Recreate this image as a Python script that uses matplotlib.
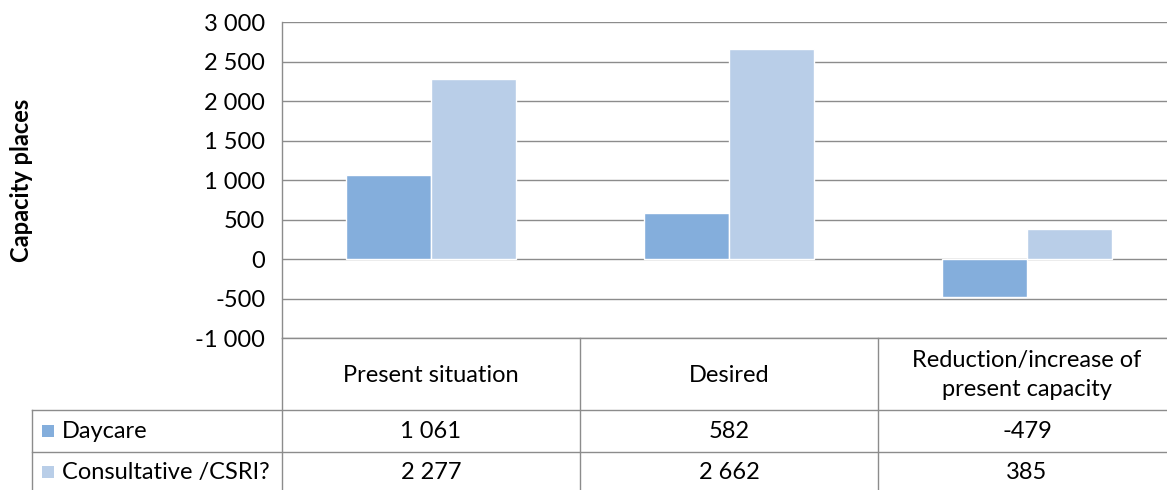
import matplotlib
matplotlib.use("Agg")
import matplotlib.pyplot as plt
from matplotlib.patches import Rectangle
from matplotlib.lines import Line2D

categories = ["Present situation", "Desired", "Reduction/increase of\npresent capacity"]
series_names = ["Daycare", "Consultative /CSRI?"]
daycare = [1061, 582, -479]
consultative = [2277, 2662, 385]
yticks = [-1000, -500, 0, 500, 1000, 1500, 2000, 2500, 3000]
ylabel = "Capacity places"

colors = ["#84AEDC", "#B9CEE8"]
grid_c = "#8C8C8C"
FS = 17

plt.rcParams['font.family'] = ['Lato', 'DejaVu Sans']

W, H = 1167, 490
fig = plt.figure(figsize=(W / 100, H / 100), dpi=100)

def fx(px):
    return px / W

def fy(py):
    return 1 - py / H

# plot area
left, right, top, bottom = 282, 282 + 298 * 3, 22, 338
ax = fig.add_axes([fx(left), fy(bottom), (right - left) / W, (bottom - top) / H])
ax.set_xlim(-0.5, len(categories) - 0.5)
ax.set_ylim(-1000, 3000)
ax.set_yticks(yticks)
ax.set_yticklabels([f"{v:,}".replace(",", " ") for v in yticks], fontsize=FS, color="#000000")
ax.tick_params(axis='y', length=0, pad=12)
ax.set_xticks([])
for s in ["top", "right", "bottom"]:
    ax.spines[s].set_visible(False)
ax.spines["left"].set_color(grid_c)
ax.spines["left"].set_linewidth(1)
ax.yaxis.grid(True, color=grid_c, linewidth=1)
ax.set_axisbelow(True)

bw = 0.285
xs = list(range(len(categories)))
ax.bar([x - bw / 2 for x in xs], daycare, width=bw, color=colors[0], edgecolor="white", linewidth=1, zorder=3)
ax.bar([x + bw / 2 for x in xs], consultative, width=bw, color=colors[1], edgecolor="white", linewidth=1, zorder=3)

fig.text(fx(22), fy(180), ylabel, rotation=90, fontsize=FS, fontweight="bold", ha="center", va="center")

# data table drawn in pixel space
ov = fig.add_axes([0, 0, 1, 1])
ov.set_xlim(0, W)
ov.set_ylim(H, 0)
ov.axis("off")
ov.patch.set_alpha(0)

def hline(y, x0, x1):
    ov.add_line(Line2D([x0, x1], [y, y], color=grid_c, linewidth=1))

def vline(x, y0, y1):
    ov.add_line(Line2D([x, x], [y0, y1], color=grid_c, linewidth=1))

col_edges = [282, 580, 878, 1176]
hline(338, 282, W)
hline(410, 32, W)
hline(452, 32, W)
for x in col_edges[:-1]:
    vline(x, 338, H)
vline(32, 410, H)

for i, cat in enumerate(categories):
    cx = (col_edges[i] + col_edges[i + 1]) / 2
    ov.text(cx, 375, cat, ha="center", va="center", fontsize=FS, linespacing=1.42)

rows = [daycare, consultative]
row_y = [431, 472]
for r, (name, vals) in enumerate(zip(series_names, rows)):
    y = row_y[r]
    ov.add_patch(Rectangle((42, y - 6), 12, 12, facecolor=colors[r], edgecolor="none"))
    ov.text(62, y, name, ha="left", va="center", fontsize=FS)
    for i, v in enumerate(vals):
        cx = (col_edges[i] + col_edges[i + 1]) / 2
        ov.text(cx, y, f"{v:,}".replace(",", " "), ha="center", va="center", fontsize=FS)

fig.savefig("out.png", dpi=100)
